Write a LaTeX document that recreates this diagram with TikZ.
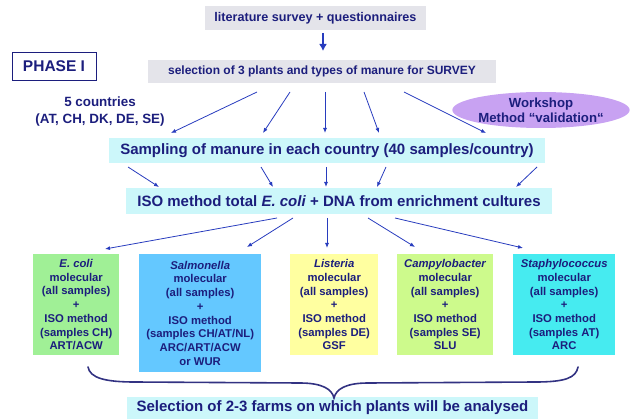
\documentclass[tikz,border=0pt]{standalone}
\usepackage{fontspec}
\setmainfont{Liberation Sans}
\usetikzlibrary{arrows.meta,calc,shapes.geometric}
\definecolor{navy}{RGB}{28,30,125}
\definecolor{arrowblue}{RGB}{40,60,190}
\definecolor{graybox}{RGB}{228,228,234}
\definecolor{cyanbox}{RGB}{204,247,250}
\definecolor{greenbox}{RGB}{160,240,150}
\definecolor{bluebox}{RGB}{100,200,255}
\definecolor{yellowbox}{RGB}{255,255,160}
\definecolor{limebox}{RGB}{205,250,140}
\definecolor{tealbox}{RGB}{70,235,240}
\definecolor{lavender}{RGB}{200,162,242}
\definecolor{bracecol}{RGB}{50,50,130}
\begin{document}
\begin{tikzpicture}[x=1pt,y=-1pt,
  every node/.style={text=navy,font=\bfseries,inner sep=0pt},
  graytitle/.style={fill=graybox},
  cyantitle/.style={fill=cyanbox,font=\fontsize{15}{17}\selectfont\bfseries},
  orgbox/.style={anchor=north west,align=center,font=\fontsize{11.3}{13.7}\selectfont\bfseries},
  fanarrow/.style={draw=arrowblue,line width=0.8pt,-{Latex[length=5pt,width=4pt]}}
]
\useasboundingbox (0,0) rectangle (636,419);

% top
\node[graytitle,minimum width=221pt,minimum height=24pt,font=\fontsize{12.6}{14}\selectfont\bfseries] (lit) at (315.5,18) {literature survey + questionnaires};
\coordinate (dA) at (323,33);
\coordinate (dB) at (323,51);
\draw[draw=arrowblue,line width=2.6pt,-{Latex[length=7pt,width=8pt]}] (dA) -- (dB);

\node[draw=navy,line width=0.8pt,fill=white,minimum width=84pt,minimum height=28pt,font=\fontsize{15.5}{17}\selectfont\bfseries] (phase) at (54,66) {PHASE I};

\node[graytitle,minimum width=348pt,minimum height=23pt,font=\fontsize{12}{14}\selectfont\bfseries] (sel) at (322,71.5) {selection of 3 plants and types of manure for SURVEY};

\node[align=center,font=\fontsize{13.4}{17}\selectfont\bfseries] (countries) at (100,112) {5 countries\\(AT, CH, DK, DE, SE)};

\node[ellipse,fill=lavender,minimum width=172pt,minimum height=36pt,align=center,font=\fontsize{13.2}{15}\selectfont\bfseries] (workshop) at (541,110) {Workshop\\Method “validation“};

% sampling
\node[cyantitle,minimum width=436pt,minimum height=25pt] (samp) at (327,150.5) {Sampling of manure in each country (40 samples/country)};

\node[cyantitle,minimum width=426pt,minimum height=26pt] (iso) at (339,201) {ISO method total \textit{E. coli} + DNA from enrichment cultures};

% fan 1
\foreach \i/\sx/\ex in {1/257/171,2/290/263,3/325/325,4/364/379,5/404/486}{
  \coordinate (fa\i) at (\sx,92);
  \coordinate (fb\i) at (\ex,133);
  \draw[fanarrow] (fa\i) -- (fb\i);
}
% fan 2
\foreach \i/\sx/\ex in {1/128/159,2/261/273,3/326/326,4/386/377,5/537/516}{
  \coordinate (ga\i) at (\sx,167);
  \coordinate (gb\i) at (\ex,187);
  \draw[fanarrow] (ga\i) -- (gb\i);
}
% fan 3
\foreach \i/\sx/\ex/\ey in {1/277/105/249,2/293/247/247,3/327/327/248,4/368/415/247,5/395/523/248}{
  \coordinate (ha\i) at (\sx,218);
  \coordinate (hb\i) at (\ex,\ey);
  \draw[fanarrow] (ha\i) -- (hb\i);
}

% organism boxes
\node[orgbox,fill=greenbox,minimum width=86pt,minimum height=101pt] (ecoli) at (33,254)
  {\textit{E. coli}\\molecular\\(all samples)\\+\\ISO method\\(samples CH)\\ART/ACW};
\node[orgbox,fill=bluebox,minimum width=122pt,minimum height=118pt] (salm) at (139,254)
  {\textit{Salmonella}\\molecular\\(all samples)\\+\\ISO method\\(samples CH/AT/NL)\\ARC/ART/ACW\\or WUR};
\node[orgbox,fill=yellowbox,minimum width=88pt,minimum height=101pt] (list) at (290,254)
  {\textit{Listeria}\\molecular\\(all samples)\\+\\ISO method\\(samples DE)\\GSF};
\node[orgbox,fill=limebox,minimum width=96pt,minimum height=101pt] (campy) at (397,254)
  {\textit{Campylobacter}\\molecular\\(all samples)\\+\\ISO method\\(samples SE)\\SLU};
\node[orgbox,fill=tealbox,minimum width=102pt,minimum height=101pt] (staph) at (513,254)
  {\textit{Staphylococcus}\\molecular\\(all samples)\\+\\ISO method\\(samples AT)\\ARC};

% bottom
\node[cyantitle,minimum width=411pt,minimum height=22pt] (final) at (332.5,408) {Selection of 2-3 farms on which plants will be analysed};

% brace
\coordinate (bL) at (88,367);
\coordinate (bR) at (578,367);
\coordinate (bC) at (334,398);
\draw[bracecol,line width=1.6pt,line cap=round]
  (bL) .. controls (90,378) and (105,382) .. (135,382)
  -- (300,383) .. controls (322,383) and (332,389) .. (bC)
  .. controls (336,389) and (346,383) .. (368,383)
  -- (535,382) .. controls (565,382) and (576,378) .. (bR);
\end{tikzpicture}
\end{document}
